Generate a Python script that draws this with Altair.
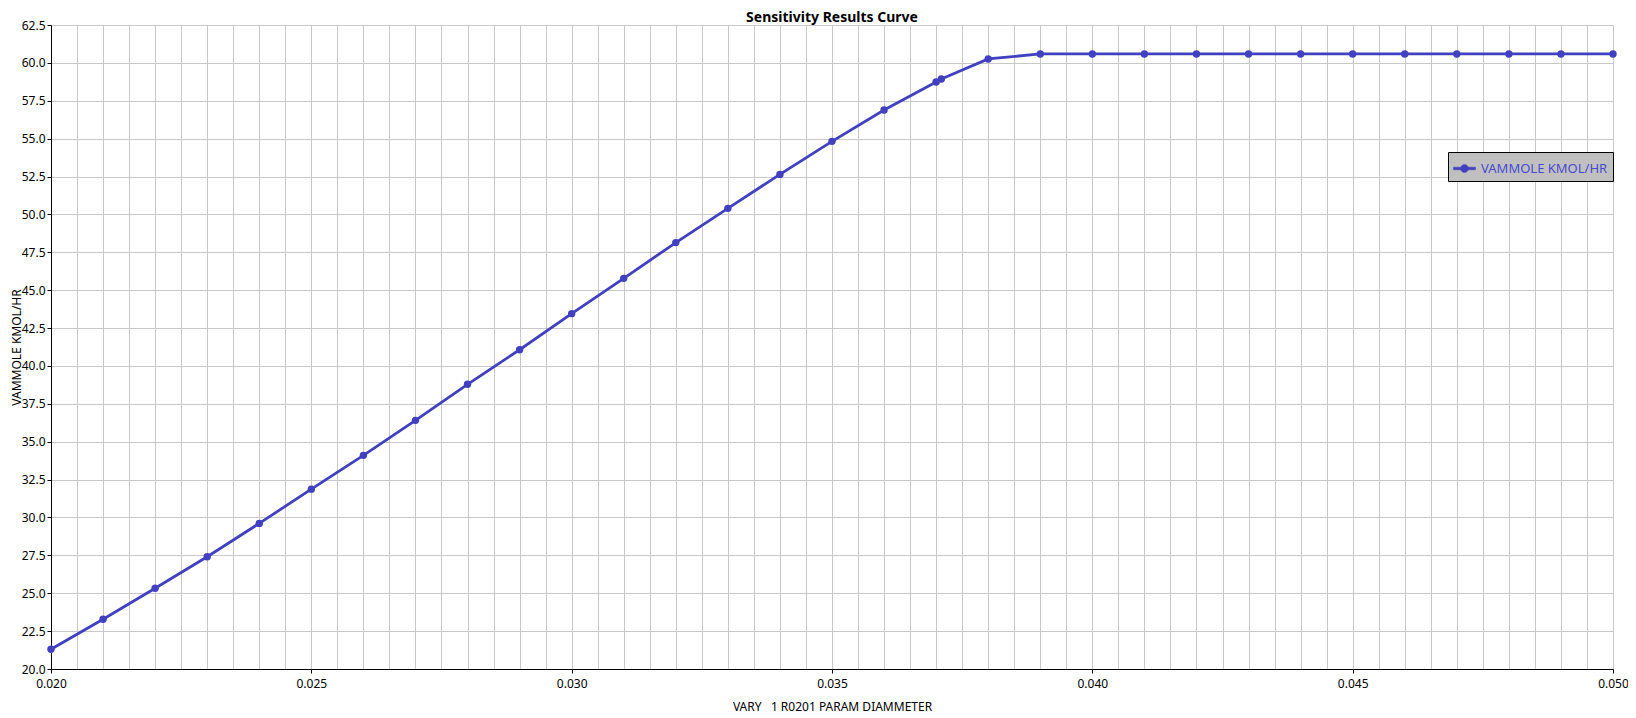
import altair as alt
import pandas as pd

# ---- data ----
x_vals = [0.020, 0.021, 0.022, 0.023, 0.024, 0.025, 0.026, 0.027, 0.028, 0.029,
          0.030, 0.031, 0.032, 0.033, 0.034, 0.035, 0.036, 0.037, 0.0371, 0.038,
          0.039, 0.040, 0.041, 0.042, 0.043, 0.044, 0.045, 0.046, 0.047, 0.048,
          0.049, 0.050]
y_vals = [21.30, 23.28, 25.33, 27.41, 29.61, 31.87, 34.10, 36.41, 38.79, 41.07,
          43.45, 45.78, 48.14, 50.40, 52.64, 54.82, 56.89, 58.74, 58.94, 60.26,
          60.59, 60.59, 60.59, 60.59, 60.59, 60.59, 60.59, 60.59, 60.59, 60.59,
          60.59, 60.59]
series_name = "VAMMOLE KMOL/HR"

x_label_ticks = [0.020, 0.025, 0.030, 0.035, 0.040, 0.045, 0.050]
x_grid_ticks = [round(0.020 + i * 0.0005, 4) for i in range(61)]
y_ticks = [20.0, 22.5, 25.0, 27.5, 30.0, 32.5, 35.0, 37.5, 40.0, 42.5, 45.0,
           47.5, 50.0, 52.5, 55.0, 57.5, 60.0, 62.5]

df = pd.DataFrame({"x": x_vals, "y": y_vals, "series": series_name})

FONT = "Noto Sans"
LINE_COLOR = "#4040C0"

label_step = round(x_label_ticks[1] - x_label_ticks[0], 4)
is_major = f"abs(datum.value / {label_step} - round(datum.value / {label_step})) < 0.01"

x_axis = alt.Axis(
    values=x_grid_ticks,
    labelExpr=f"{is_major} ? format(datum.value, '.3f') : ''",
    tickColor=alt.condition(is_major, alt.value("black"), alt.value("transparent")),
    labelFlush=False,
    labelOverlap=False,
    title="VARY\u00a0\u00a0\u00a01 R0201 PARAM DIAMMETER",
    titlePadding=12,
    labelPadding=5,
    tickSize=4,
)

y_axis = alt.Axis(
    values=y_ticks,
    format=".1f",
    labelFlush=False,
    labelOverlap=False,
    title=series_name,
    titleX=-35,
    titleBaseline="middle",
    labelPadding=2,
    tickSize=4,
)

legend_symbol = ("M-1,-0.12 L1,-0.12 L1,0.12 L-1,0.12 Z "
                 "M0.36,0 A0.36,0.36 0 1 1 -0.36,0 A0.36,0.36 0 1 1 0.36,0 Z")

color = alt.Color(
    "series:N",
    scale=alt.Scale(domain=[series_name], range=[LINE_COLOR]),
    legend=alt.Legend(
        title=None,
        orient="none",
        legendX=1397,
        legendY=127,
        fillColor="#C0C0C0",
        strokeColor="black",
        padding=5,
        symbolType=legend_symbol,
        symbolSize=484,
        symbolFillColor=LINE_COLOR,
        symbolStrokeColor=LINE_COLOR,
        symbolStrokeWidth=0.5,
        labelColor="#4A4AD0",
        labelFontSize=13,
        labelFont=FONT,
        labelOffset=5,
    ),
)

base = alt.Chart(df).encode(
    x=alt.X("x:Q", scale=alt.Scale(domain=[0.020, 0.050], nice=False, zero=False), axis=x_axis),
    y=alt.Y("y:Q", scale=alt.Scale(domain=[20, 62.5], nice=False, zero=False), axis=y_axis),
)

line = base.mark_line(strokeWidth=2.8).encode(color=color)
points = base.mark_circle(size=55, opacity=1).encode(color=alt.Color("series:N", legend=None))

chart = (
    alt.layer(line, points)
    .properties(
        width=1562,
        height=644,
        autosize="none",
        padding={"left": 43, "top": 17, "right": 15, "bottom": 44},
        title=alt.Title("Sensitivity Results Curve", fontSize=14, fontWeight="bold",
                        font=FONT, anchor="middle", offset=-6, color="black"),
    )
    .configure_view(strokeWidth=0)
    .configure_axis(
        labelFont=FONT, titleFont=FONT, labelFontSize=12, titleFontSize=12,
        titleFontWeight="normal", labelColor="black", titleColor="black",
        domainColor="black", domainWidth=1, tickColor="black",
        gridColor="#C8C8C8", gridWidth=1, gridOpacity=1,
    )
)

chart.save("out.html", embed_options={"renderer": "svg", "actions": False})
